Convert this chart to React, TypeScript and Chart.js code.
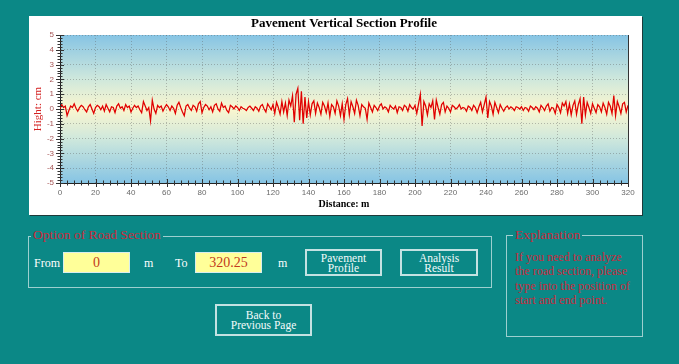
import React, { useEffect, useRef } from "react";
import { Chart, registerables } from "chart.js";

Chart.register(...registerables);

// ---------- data ----------
const STEP_M = 1; // sampling interval in metres
const heightCm: number[] = [
  // 0-19
  0.0, 0.3, 0.1, 0.2, -0.45, -0.1, 0.2, 0.1, 0.35, 0.05, -0.15, 0.1, 0.25, 0.15, -0.05, -0.2, 0.15, 0.3, 0.0, -0.3,
  // 20-39
  0.1, 0.25, 0.15, -0.05, 0.2, -0.15, 0.3, 0.05, -0.2, 0.15, 0.1, -0.25, 0.2, 0.35, 0.05, 0.15, -0.1, 0.3, 0.1, 0.2,
  // 40-59
  -0.2, 0.05, 0.25, 0.1, 0.2, -0.05, -0.25, 0.5, 0.2, -0.1, 0.1, -0.8, 0.6, 0.0, -0.3, 0.25, 0.1, 0.2, -0.15, 0.1,
  // 60-79
  0.3, 0.15, -0.1, 0.2, 0.05, -0.3, 0.25, 0.45, 0.1, -0.2, -0.45, 0.2, 0.3, 0.05, -0.1, 0.25, 0.15, -0.15, 0.35, 0.5,
  // 80-99
  -0.25, 0.1, 0.3, 0.2, -0.05, 0.15, -0.2, 0.25, 0.35, 0.0, -0.15, 0.4, 0.1, 0.2, -0.1, -0.25, 0.25, 0.15, 0.0, 0.2,
  // 100-119
  0.1, -0.1, 0.15, 0.05, 0.0, -0.1, 0.1, 0.2, 0.05, -0.1, 0.15, 0.05, -0.15, 0.2, 0.3, 0.0, -0.2, 0.35, 0.15, -0.05,
  // 120-139
  0.3, -0.3, 0.45, 0.1, -0.35, 0.5, -0.2, 0.4, -0.45, 0.6, 0.2, 0.9, -0.9, 1.0, 1.4, -0.75, 1.2, -1.0, 0.8, -0.6,
  // 140-159
  0.5, -0.4, 0.35, 0.55, -0.3, 0.4, 0.1, -0.35, 0.45, 0.2, -0.25, 0.4, -0.5, 0.3, 0.15, -0.3, 0.55, 0.2, -0.45, 0.35,
  // 160-179
  -0.7, 0.3, 0.7, -0.4, 0.5, 0.15, -0.3, 0.6, 0.25, -0.45, 0.3, 0.15, 0.05, -0.7, 0.4, 0.1, -0.2, 0.25, 0.1, -0.1,
  // 180-199
  0.2, 0.35, 0.0, 0.15, 0.05, -0.2, 0.25, 0.1, 0.0, 0.2, -0.25, 0.15, 0.1, -0.1, 0.25, 0.15, -0.15, 0.3, 0.1, 0.0,
  // 200-219
  0.25, -0.3, 0.35, 1.0, -1.15, 0.5, 0.2, -0.4, 0.35, 0.1, 0.55, -0.7, 0.6, 0.1, -0.35, 0.3, 0.45, -0.2, 0.2, 0.05,
  // 220-239
  -0.2, 0.25, 0.15, 0.0, 0.1, 0.3, 0.0, 0.1, 0.05, -0.15, 0.2, 0.1, -0.1, 0.25, 0.1, -0.25, 0.15, 0.45, -0.2, 0.3,
  // 240-259
  0.8, -0.6, 0.5, 0.2, -0.35, 0.45, 0.1, -0.25, 0.3, 0.05, -0.15, 0.1, 0.2, 0.0, 0.15, 0.05, -0.1, 0.15, 0.1, 0.0,
  // 260-279
  0.15, -0.1, 0.1, 0.05, -0.15, 0.2, 0.1, -0.05, 0.15, 0.05, -0.2, 0.25, 0.1, -0.1, 0.2, 0.35, -0.15, 0.1, 0.05, -0.3,
  // 280-299
  0.3, 0.1, -0.25, 0.4, 0.2, 0.5, -0.3, 0.35, -0.4, 0.25, 0.55, -0.35, 0.3, 0.7, -1.0, 0.8, -0.4, 0.45, 0.1, -0.3,
  // 300-320
  0.35, 0.05, -0.25, 0.3, 0.15, -0.2, 0.4, 0.1, -0.35, 0.45, 0.2, -0.3, 0.9, -0.45, 0.5, 0.15, -0.3, 0.35, 0.45, -0.2, 0.25,
];

const X_MIN = 0;
const X_MAX = 320;
const X_STEP = 20;
const X_MINOR = 4;
const Y_MIN = -5;
const Y_MAX = 5;
const Y_STEP = 1;
const Y_MINOR = 0.2;

const chartTitle = "Pavement Vertical Section Profile";
const xTitle = "Distance: m";
const yTitle = "Hight: cm";

const fromValue = "0";
const toValue = "320.25";
const explanationLines = [
  "If you need to analyze",
  "the road section, please",
  "type into the position of",
  "start and end point.",
];

// ---------- styles ----------
const TEAL = "#0b8886";
const RED = "#c92a3c";
const SERIF = '"Liberation Serif", "Times New Roman", serif';
const SANS = '"Liberation Sans", Arial, sans-serif';

const bgPlugin = {
  id: "bgGradient",
  beforeDraw(chart: any) {
    const { ctx, chartArea: a } = chart;
    if (!a) return;
    const g = ctx.createLinearGradient(0, a.top, 0, a.bottom);
    g.addColorStop(0, "#86c4e4");
    g.addColorStop(0.3, "#cfe8dc");
    g.addColorStop(0.5, "#fbf6cf");
    g.addColorStop(0.7, "#cfe8dc");
    g.addColorStop(1, "#86c4e4");
    ctx.save();
    ctx.fillStyle = g;
    ctx.fillRect(a.left, a.top, a.right - a.left, a.bottom - a.top);
    ctx.restore();
  },
};

const tickPlugin = {
  id: "minorTicks",
  afterDraw(chart: any) {
    const { ctx, chartArea: a, scales } = chart;
    const x = scales.x;
    const y = scales.y;
    ctx.save();
    ctx.strokeStyle = "#333";
    ctx.lineWidth = 1;
    ctx.beginPath();
    const nx = Math.round((X_MAX - X_MIN) / X_MINOR);
    for (let i = 0; i <= nx; i++) {
      const v = X_MIN + i * X_MINOR;
      const px = Math.round(x.getPixelForValue(v)) + 0.5;
      const major = i % Math.round(X_STEP / X_MINOR) === 0;
      const l = major ? 4 : 2.5;
      ctx.moveTo(px, a.bottom - l);
      ctx.lineTo(px, a.bottom + l);
    }
    const ny = Math.round((Y_MAX - Y_MIN) / Y_MINOR);
    for (let i = 0; i <= ny; i++) {
      const v = Y_MIN + i * Y_MINOR;
      const py = Math.round(y.getPixelForValue(v)) + 0.5;
      const major = i % Math.round(Y_STEP / Y_MINOR) === 0;
      const l = major ? 4 : 2.5;
      ctx.moveTo(a.left - l, py);
      ctx.lineTo(a.left + l, py);
    }
    ctx.stroke();
    ctx.beginPath();
    ctx.moveTo(Math.round(a.right) + 0.5, a.top);
    ctx.lineTo(Math.round(a.right) + 0.5, a.bottom);
    ctx.stroke();
    ctx.restore();
  },
};

function ProfileChart() {
  const ref = useRef<HTMLCanvasElement | null>(null);
  useEffect(() => {
    if (!ref.current) return;
    const points = heightCm.map((v, i) => ({ x: i * STEP_M, y: v }));
    const chart = new Chart(ref.current, {
      type: "line",
      data: {
        datasets: [
          {
            data: points,
            borderColor: "#e00000",
            borderWidth: 1.25,
            pointRadius: 0,
            tension: 0,
            fill: false,
          },
        ],
      },
      options: {
        animation: false,
        responsive: false,
        maintainAspectRatio: false,
        events: [],
        layout: { padding: { left: 0, top: 0, right: 14, bottom: 0 } },
        plugins: {
          legend: { display: false },
          tooltip: { enabled: false },
          title: {
            display: true,
            text: chartTitle,
            fullSize: false,
            color: "#000",
            font: { family: SERIF, size: 13, weight: "bold" },
            padding: { top: 0.2, bottom: 3.2 },
          },
        },
        scales: {
          x: {
            type: "linear",
            min: X_MIN,
            max: X_MAX,
            afterFit: (s: any) => {
              s.height = 32;
            },
            ticks: {
              stepSize: X_STEP,
              color: "#6a6a6a",
              font: { family: SANS, size: 8 },
              padding: 5,
              maxRotation: 0,
            },
            grid: {
              color: "rgba(90,90,90,0.38)",
              lineWidth: 1,
              drawTicks: false,
            },
            border: { display: true, color: "#222", width: 1, dash: [1, 2] },
            title: {
              display: true,
              text: xTitle,
              color: "#000",
              font: { family: SERIF, size: 10, weight: "bold" },
              padding: { top: 0, bottom: 5 },
            },
          },
          y: {
            type: "linear",
            min: Y_MIN,
            max: Y_MAX,
            afterFit: (s: any) => {
              s.width = 31;
            },
            ticks: {
              stepSize: Y_STEP,
              color: "#a65656",
              font: { family: SANS, size: 8 },
              padding: 6,
            },
            grid: {
              color: "rgba(90,90,90,0.38)",
              lineWidth: 1,
              drawTicks: false,
            },
            border: { display: true, color: "#222", width: 1, dash: [1, 2] },
            title: {
              display: true,
              text: yTitle,
              color: "#d42222",
              font: { family: SERIF, size: 11 },
              padding: { top: 2.4, bottom: 0 },
            },
          },
        },
      },
      plugins: [bgPlugin, tickPlugin],
    } as any);
    return () => chart.destroy();
  }, []);
  return <canvas ref={ref} width={613} height={199} style={{ display: "block", width: 613, height: 199 }} />;
}

const abs = (left: number, top: number, extra: React.CSSProperties = {}): React.CSSProperties => ({
  position: "absolute",
  left,
  top,
  ...extra,
});

const boxBorder = "1px solid #9dcfcf";
const btnStyle = (left: number, top: number, w: number, h: number): React.CSSProperties => ({
  position: "absolute",
  left,
  top,
  width: w,
  height: h,
  boxSizing: "border-box",
  border: "2px solid #c4e2e2",
  color: "#f4fbfb",
  fontSize: 11.5,
  fontWeight: 400,
  lineHeight: "10px",
  textAlign: "center",
  display: "flex",
  flexDirection: "column",
  justifyContent: "center",
  alignItems: "center",
});

const inputStyle = (left: number): React.CSSProperties => ({
  position: "absolute",
  left,
  top: 252,
  width: 67,
  height: 21,
  boxSizing: "border-box",
  background: "#ffff99",
  border: "1px solid #d8eeee",
  color: "#c23a1c",
  fontSize: 14,
  lineHeight: "19px",
  textAlign: "center",
});

const labelStyle = (left: number): React.CSSProperties => ({
  position: "absolute",
  left,
  top: 255,
  color: "#fff",
  fontSize: 12,
  lineHeight: "16px",
  whiteSpace: "nowrap",
});

export default function App() {
  return (
    <div
      style={{
        position: "fixed",
        left: 0,
        top: 0,
        width: 679,
        height: 364,
        background: TEAL,
        overflow: "hidden",
        fontFamily: SERIF,
      }}
    >
      <div style={abs(29, 16, { width: 613, height: 199, background: "#fff", boxShadow: "1px 1px 0 #1f3a3a" })}>
        <ProfileChart />
      </div>

      {/* Option of Road Section */}
      <div style={abs(28, 236, { width: 464, height: 52, boxSizing: "border-box", border: boxBorder })} />
      <span
        style={abs(31, 226, {
          background: TEAL,
          padding: "0 2px",
          color: RED,
          fontSize: 13.5,
          lineHeight: "18px",
          whiteSpace: "nowrap",
        })}
      >
        Option of Road Section
      </span>
      <span style={labelStyle(34)}>From</span>
      <div style={inputStyle(63)}>{fromValue}</div>
      <span style={labelStyle(144)}>m</span>
      <span style={labelStyle(175)}>To</span>
      <div style={inputStyle(195)}>{toValue}</div>
      <span style={labelStyle(278)}>m</span>
      <div style={btnStyle(305, 249, 77, 27)}>
        <span>Pavement</span>
        <span>Profile</span>
      </div>
      <div style={btnStyle(400, 249, 78, 27)}>
        <span>Analysis</span>
        <span>Result</span>
      </div>

      <div style={btnStyle(215, 304, 97, 32)}>
        <span>Back to</span>
        <span>Previous Page</span>
      </div>

      {/* Explanation */}
      <div style={abs(506, 235, { width: 137, height: 102, boxSizing: "border-box", border: boxBorder })} />
      <span
        style={abs(513, 226, {
          background: TEAL,
          padding: "0 2px",
          color: RED,
          fontSize: 13.5,
          lineHeight: "18px",
          whiteSpace: "nowrap",
        })}
      >
        Explanation
      </span>
      <div style={abs(515, 250, { color: RED, fontSize: 12, lineHeight: "14.3px", whiteSpace: "nowrap" })}>
        {explanationLines.map((l, i) => (
          <div key={i}>{l}</div>
        ))}
      </div>
    </div>
  );
}
